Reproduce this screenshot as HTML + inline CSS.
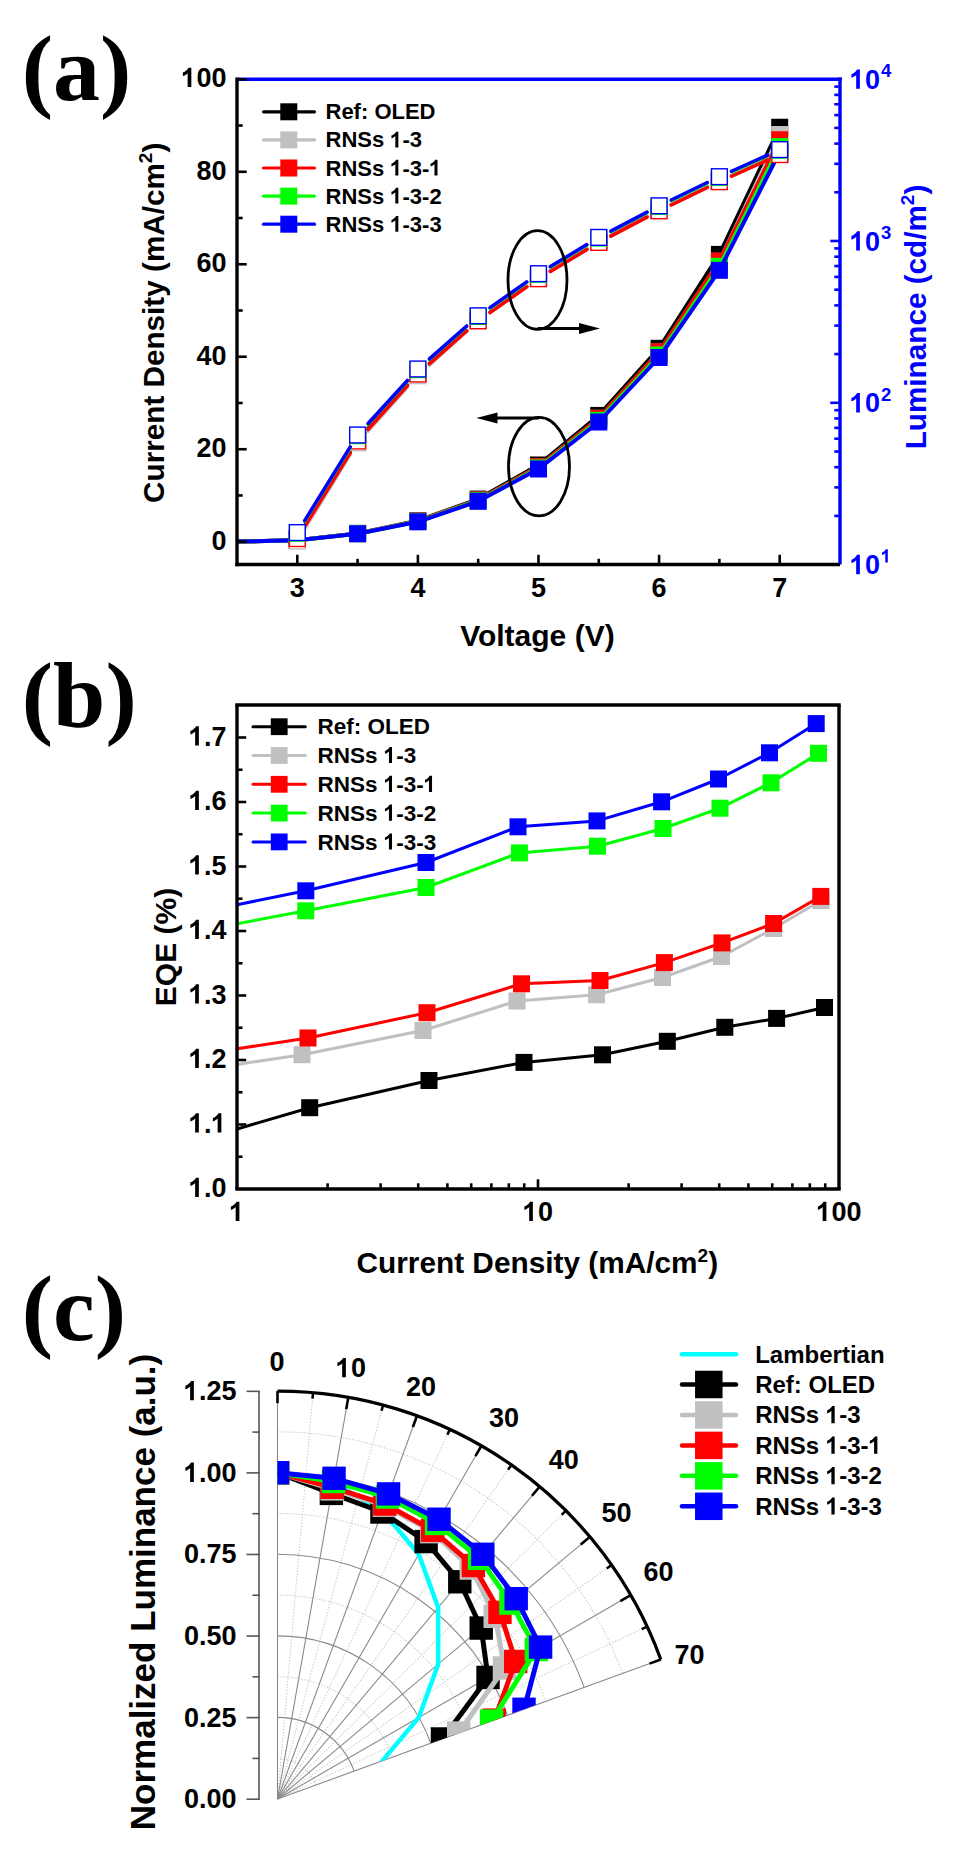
<!DOCTYPE html><html><head><meta charset="utf-8"><style>.o1{fill-opacity:0;}html,body{margin:0;padding:0;background:#fff;}svg{display:block;}</style></head><body>
<svg width="960" height="1870" viewBox="0 0 960 1870">
<rect width="960" height="1870" fill="#fff"/>
<text x="21.8" y="99.8" font-family='"Liberation Serif", serif' font-size="94" font-weight="bold" fill="#000" text-anchor="start" >(a)</text>
<text x="21.8" y="726.5" font-family='"Liberation Serif", serif' font-size="94" font-weight="bold" fill="#000" text-anchor="start" >(b)</text>
<text x="21.8" y="1339.5" font-family='"Liberation Serif", serif' font-size="94" font-weight="bold" fill="#000" text-anchor="start" >(c)</text>
<defs><clipPath id="ca"><rect x="237" y="79.2" width="603" height="485.3"/></clipPath>
<clipPath id="cb"><rect x="237" y="705" width="602" height="484"/></clipPath>
<clipPath id="cc"><polygon points="277.5,1799 277.5,1374.81 284.9,1374.87 292.3,1375.07 299.7,1375.39 307.09,1375.84 314.47,1376.42 321.84,1377.13 329.2,1377.97 336.54,1378.94 343.86,1380.03 351.16,1381.25 358.44,1382.6 365.69,1384.08 372.92,1385.68 380.12,1387.41 387.29,1389.26 394.42,1391.24 401.52,1393.35 408.58,1395.57 415.6,1397.92 422.58,1400.39 429.52,1402.98 436.4,1405.7 443.24,1408.53 450.03,1411.48 456.77,1414.55 463.45,1417.74 470.08,1421.04 476.65,1424.46 483.15,1428 489.59,1431.64 495.97,1435.4 502.29,1439.27 508.53,1443.24 514.7,1447.33 520.81,1451.52 526.83,1455.82 532.78,1460.23 538.66,1464.73 544.45,1469.34 550.16,1474.05 555.79,1478.86 561.34,1483.77 566.8,1488.77 572.17,1493.86 577.45,1499.05 582.64,1504.33 587.73,1509.7 592.73,1515.16 597.64,1520.71 602.45,1526.34 607.16,1532.05 611.77,1537.84 616.27,1543.72 620.68,1549.67 624.98,1555.69 629.17,1561.8 633.26,1567.97 637.23,1574.21 641.1,1580.53 644.86,1586.9 648.5,1593.35 652.04,1599.85 655.46,1606.42 658.76,1613.05 661.95,1619.73 665.02,1626.47 667.97,1633.26 670.8,1640.1 673.52,1646.98 676.11,1653.92"/></clipPath></defs>
<g clip-path="url(#ca)">
<polyline points="237,541.59 297.3,540.12 357.6,533.37 417.9,520.71 478.2,499.08 538.5,465 598.8,415.42 659.1,348.3 719.4,254.4 779.7,127.25" fill="none" stroke="#000000" stroke-width="4" stroke-linejoin="round" stroke-linecap="round" />
<rect x="288.8" y="531.62" width="17" height="17" fill="#000000" stroke="none" stroke-width="0" />
<rect x="349.1" y="524.87" width="17" height="17" fill="#000000" stroke="none" stroke-width="0" />
<rect x="409.4" y="512.21" width="17" height="17" fill="#000000" stroke="none" stroke-width="0" />
<rect x="469.7" y="490.58" width="17" height="17" fill="#000000" stroke="none" stroke-width="0" />
<rect x="530" y="456.5" width="17" height="17" fill="#000000" stroke="none" stroke-width="0" />
<rect x="590.3" y="406.92" width="17" height="17" fill="#000000" stroke="none" stroke-width="0" />
<rect x="650.6" y="339.8" width="17" height="17" fill="#000000" stroke="none" stroke-width="0" />
<rect x="710.9" y="245.9" width="17" height="17" fill="#000000" stroke="none" stroke-width="0" />
<rect x="771.2" y="118.75" width="17" height="17" fill="#000000" stroke="none" stroke-width="0" />
<polyline points="237,541.6 297.3,540.15 357.6,533.56 417.9,521.18 478.2,500.05 538.5,466.75 598.8,418.29 659.1,352 719.4,261.3 779.7,134.5" fill="none" stroke="#c0c0c0" stroke-width="4" stroke-linejoin="round" stroke-linecap="round" />
<rect x="288.8" y="531.65" width="17" height="17" fill="#c0c0c0" stroke="none" stroke-width="0" />
<rect x="349.1" y="525.06" width="17" height="17" fill="#c0c0c0" stroke="none" stroke-width="0" />
<rect x="409.4" y="512.68" width="17" height="17" fill="#c0c0c0" stroke="none" stroke-width="0" />
<rect x="469.7" y="491.55" width="17" height="17" fill="#c0c0c0" stroke="none" stroke-width="0" />
<rect x="530" y="458.25" width="17" height="17" fill="#c0c0c0" stroke="none" stroke-width="0" />
<rect x="590.3" y="409.79" width="17" height="17" fill="#c0c0c0" stroke="none" stroke-width="0" />
<rect x="650.6" y="343.5" width="17" height="17" fill="#c0c0c0" stroke="none" stroke-width="0" />
<rect x="710.9" y="252.8" width="17" height="17" fill="#c0c0c0" stroke="none" stroke-width="0" />
<rect x="771.2" y="126" width="17" height="17" fill="#c0c0c0" stroke="none" stroke-width="0" />
<polyline points="237,541.6 297.3,540.15 357.6,533.56 417.9,521.18 478.2,500.05 538.5,466.75 598.8,418.29 659.1,351.8 719.4,261 779.7,139.75" fill="none" stroke="#ff0000" stroke-width="4" stroke-linejoin="round" stroke-linecap="round" />
<rect x="288.8" y="531.65" width="17" height="17" fill="#ff0000" stroke="none" stroke-width="0" />
<rect x="349.1" y="525.06" width="17" height="17" fill="#ff0000" stroke="none" stroke-width="0" />
<rect x="409.4" y="512.68" width="17" height="17" fill="#ff0000" stroke="none" stroke-width="0" />
<rect x="469.7" y="491.55" width="17" height="17" fill="#ff0000" stroke="none" stroke-width="0" />
<rect x="530" y="458.25" width="17" height="17" fill="#ff0000" stroke="none" stroke-width="0" />
<rect x="590.3" y="409.79" width="17" height="17" fill="#ff0000" stroke="none" stroke-width="0" />
<rect x="650.6" y="343.3" width="17" height="17" fill="#ff0000" stroke="none" stroke-width="0" />
<rect x="710.9" y="252.5" width="17" height="17" fill="#ff0000" stroke="none" stroke-width="0" />
<rect x="771.2" y="131.25" width="17" height="17" fill="#ff0000" stroke="none" stroke-width="0" />
<polyline points="237,541.6 297.3,540.18 357.6,533.69 417.9,521.52 478.2,500.73 538.5,467.98 598.8,420.32 659.1,355 719.4,266.3 779.7,146.6" fill="none" stroke="#00ff00" stroke-width="4" stroke-linejoin="round" stroke-linecap="round" />
<rect x="288.8" y="531.68" width="17" height="17" fill="#00ff00" stroke="none" stroke-width="0" />
<rect x="349.1" y="525.19" width="17" height="17" fill="#00ff00" stroke="none" stroke-width="0" />
<rect x="409.4" y="513.02" width="17" height="17" fill="#00ff00" stroke="none" stroke-width="0" />
<rect x="469.7" y="492.23" width="17" height="17" fill="#00ff00" stroke="none" stroke-width="0" />
<rect x="530" y="459.48" width="17" height="17" fill="#00ff00" stroke="none" stroke-width="0" />
<rect x="590.3" y="411.82" width="17" height="17" fill="#00ff00" stroke="none" stroke-width="0" />
<rect x="650.6" y="346.5" width="17" height="17" fill="#00ff00" stroke="none" stroke-width="0" />
<rect x="710.9" y="257.8" width="17" height="17" fill="#00ff00" stroke="none" stroke-width="0" />
<rect x="771.2" y="138.1" width="17" height="17" fill="#00ff00" stroke="none" stroke-width="0" />
<polyline points="237,541.6 297.3,540.2 357.6,533.8 417.9,521.8 478.2,501.3 538.5,469 598.8,422 659.1,357.5 719.4,270.3 779.7,152" fill="none" stroke="#0000ff" stroke-width="4" stroke-linejoin="round" stroke-linecap="round" />
<rect x="288.8" y="531.7" width="17" height="17" fill="#0000ff" stroke="none" stroke-width="0" />
<rect x="349.1" y="525.3" width="17" height="17" fill="#0000ff" stroke="none" stroke-width="0" />
<rect x="409.4" y="513.3" width="17" height="17" fill="#0000ff" stroke="none" stroke-width="0" />
<rect x="469.7" y="492.8" width="17" height="17" fill="#0000ff" stroke="none" stroke-width="0" />
<rect x="530" y="460.5" width="17" height="17" fill="#0000ff" stroke="none" stroke-width="0" />
<rect x="590.3" y="413.5" width="17" height="17" fill="#0000ff" stroke="none" stroke-width="0" />
<rect x="650.6" y="349" width="17" height="17" fill="#0000ff" stroke="none" stroke-width="0" />
<rect x="710.9" y="261.8" width="17" height="17" fill="#0000ff" stroke="none" stroke-width="0" />
<rect x="771.2" y="143.5" width="17" height="17" fill="#0000ff" stroke="none" stroke-width="0" />
</g>
<line x1="304.62" y1="526.19" x2="350.28" y2="451.91" stroke="#000000" stroke-width="3.5" stroke-linecap="round" />
<line x1="368.01" y1="428.54" x2="407.49" y2="385.06" stroke="#000000" stroke-width="3.5" stroke-linecap="round" />
<line x1="429.4" y1="363.45" x2="466.7" y2="330.55" stroke="#000000" stroke-width="3.5" stroke-linecap="round" />
<line x1="489.98" y1="312.18" x2="526.72" y2="286.52" stroke="#000000" stroke-width="3.5" stroke-linecap="round" />
<line x1="550.43" y1="271.12" x2="586.87" y2="249.18" stroke="#000000" stroke-width="3.5" stroke-linecap="round" />
<line x1="610.84" y1="235.69" x2="647.06" y2="216.71" stroke="#000000" stroke-width="3.5" stroke-linecap="round" />
<line x1="671.2" y1="204.56" x2="707.3" y2="187.14" stroke="#000000" stroke-width="3.5" stroke-linecap="round" />
<line x1="731.55" y1="175.84" x2="767.55" y2="159.66" stroke="#000000" stroke-width="3.5" stroke-linecap="round" />
<rect x="289.4" y="530.2" width="15.8" height="15.8" fill="#fff" stroke="#000000" stroke-width="1.4" />
<rect x="349.7" y="432.1" width="15.8" height="15.8" fill="#fff" stroke="#000000" stroke-width="1.4" />
<rect x="410" y="365.7" width="15.8" height="15.8" fill="#fff" stroke="#000000" stroke-width="1.4" />
<rect x="470.3" y="312.5" width="15.8" height="15.8" fill="#fff" stroke="#000000" stroke-width="1.4" />
<rect x="530.6" y="270.4" width="15.8" height="15.8" fill="#fff" stroke="#000000" stroke-width="1.4" />
<rect x="590.9" y="234.1" width="15.8" height="15.8" fill="#fff" stroke="#000000" stroke-width="1.4" />
<rect x="651.2" y="202.5" width="15.8" height="15.8" fill="#fff" stroke="#000000" stroke-width="1.4" />
<rect x="711.5" y="173.4" width="15.8" height="15.8" fill="#fff" stroke="#000000" stroke-width="1.4" />
<rect x="771.8" y="146.3" width="15.8" height="15.8" fill="#fff" stroke="#000000" stroke-width="1.4" />
<line x1="304.61" y1="529.19" x2="350.29" y2="454.71" stroke="#c0c0c0" stroke-width="3.5" stroke-linecap="round" />
<line x1="367.91" y1="431.32" x2="407.59" y2="387.18" stroke="#c0c0c0" stroke-width="3.5" stroke-linecap="round" />
<line x1="429.36" y1="365.27" x2="466.74" y2="331.23" stroke="#c0c0c0" stroke-width="3.5" stroke-linecap="round" />
<line x1="489.97" y1="312.5" x2="526.73" y2="286.6" stroke="#c0c0c0" stroke-width="3.5" stroke-linecap="round" />
<line x1="550.43" y1="271.12" x2="586.87" y2="249.18" stroke="#c0c0c0" stroke-width="3.5" stroke-linecap="round" />
<line x1="610.84" y1="235.69" x2="647.06" y2="216.71" stroke="#c0c0c0" stroke-width="3.5" stroke-linecap="round" />
<line x1="671.2" y1="204.56" x2="707.3" y2="187.14" stroke="#c0c0c0" stroke-width="3.5" stroke-linecap="round" />
<line x1="731.55" y1="175.84" x2="767.55" y2="159.66" stroke="#c0c0c0" stroke-width="3.5" stroke-linecap="round" />
<rect x="289.4" y="533.2" width="15.8" height="15.8" fill="#fff" stroke="#c0c0c0" stroke-width="1.4" />
<rect x="349.7" y="434.9" width="15.8" height="15.8" fill="#fff" stroke="#c0c0c0" stroke-width="1.4" />
<rect x="410" y="367.8" width="15.8" height="15.8" fill="#fff" stroke="#c0c0c0" stroke-width="1.4" />
<rect x="470.3" y="312.9" width="15.8" height="15.8" fill="#fff" stroke="#c0c0c0" stroke-width="1.4" />
<rect x="530.6" y="270.4" width="15.8" height="15.8" fill="#fff" stroke="#c0c0c0" stroke-width="1.4" />
<rect x="590.9" y="234.1" width="15.8" height="15.8" fill="#fff" stroke="#c0c0c0" stroke-width="1.4" />
<rect x="651.2" y="202.5" width="15.8" height="15.8" fill="#fff" stroke="#c0c0c0" stroke-width="1.4" />
<rect x="711.5" y="173.4" width="15.8" height="15.8" fill="#fff" stroke="#c0c0c0" stroke-width="1.4" />
<rect x="771.8" y="146.3" width="15.8" height="15.8" fill="#fff" stroke="#c0c0c0" stroke-width="1.4" />
<line x1="304.65" y1="526.7" x2="350.25" y2="452.9" stroke="#ff0000" stroke-width="3.5" stroke-linecap="round" />
<line x1="367.93" y1="429.53" x2="407.57" y2="385.47" stroke="#ff0000" stroke-width="3.5" stroke-linecap="round" />
<line x1="429.4" y1="363.85" x2="466.7" y2="330.95" stroke="#ff0000" stroke-width="3.5" stroke-linecap="round" />
<line x1="489.98" y1="312.58" x2="526.72" y2="286.92" stroke="#ff0000" stroke-width="3.5" stroke-linecap="round" />
<line x1="550.43" y1="271.52" x2="586.87" y2="249.58" stroke="#ff0000" stroke-width="3.5" stroke-linecap="round" />
<line x1="610.84" y1="236.09" x2="647.06" y2="217.11" stroke="#ff0000" stroke-width="3.5" stroke-linecap="round" />
<line x1="671.2" y1="204.96" x2="707.3" y2="187.54" stroke="#ff0000" stroke-width="3.5" stroke-linecap="round" />
<line x1="731.55" y1="176.24" x2="767.55" y2="160.06" stroke="#ff0000" stroke-width="3.5" stroke-linecap="round" />
<rect x="289.4" y="530.7" width="15.8" height="15.8" fill="#fff" stroke="#ff0000" stroke-width="1.4" />
<rect x="349.7" y="433.1" width="15.8" height="15.8" fill="#fff" stroke="#ff0000" stroke-width="1.4" />
<rect x="410" y="366.1" width="15.8" height="15.8" fill="#fff" stroke="#ff0000" stroke-width="1.4" />
<rect x="470.3" y="312.9" width="15.8" height="15.8" fill="#fff" stroke="#ff0000" stroke-width="1.4" />
<rect x="530.6" y="270.8" width="15.8" height="15.8" fill="#fff" stroke="#ff0000" stroke-width="1.4" />
<rect x="590.9" y="234.5" width="15.8" height="15.8" fill="#fff" stroke="#ff0000" stroke-width="1.4" />
<rect x="651.2" y="202.9" width="15.8" height="15.8" fill="#fff" stroke="#ff0000" stroke-width="1.4" />
<rect x="711.5" y="173.8" width="15.8" height="15.8" fill="#fff" stroke="#ff0000" stroke-width="1.4" />
<rect x="771.8" y="146.7" width="15.8" height="15.8" fill="#fff" stroke="#ff0000" stroke-width="1.4" />
<line x1="304.65" y1="521.3" x2="350.25" y2="447.5" stroke="#00ff00" stroke-width="3.5" stroke-linecap="round" />
<line x1="368.06" y1="424.15" x2="407.44" y2="381.05" stroke="#00ff00" stroke-width="3.5" stroke-linecap="round" />
<line x1="429.4" y1="359.45" x2="466.7" y2="326.55" stroke="#00ff00" stroke-width="3.5" stroke-linecap="round" />
<line x1="489.98" y1="308.18" x2="526.72" y2="282.52" stroke="#00ff00" stroke-width="3.5" stroke-linecap="round" />
<line x1="550.43" y1="267.12" x2="586.87" y2="245.18" stroke="#00ff00" stroke-width="3.5" stroke-linecap="round" />
<line x1="610.84" y1="231.69" x2="647.06" y2="212.71" stroke="#00ff00" stroke-width="3.5" stroke-linecap="round" />
<line x1="671.2" y1="200.56" x2="707.3" y2="183.14" stroke="#00ff00" stroke-width="3.5" stroke-linecap="round" />
<line x1="731.55" y1="171.84" x2="767.55" y2="155.66" stroke="#00ff00" stroke-width="3.5" stroke-linecap="round" />
<rect x="289.4" y="525.3" width="15.8" height="15.8" fill="#fff" stroke="#00ff00" stroke-width="1.4" />
<rect x="349.7" y="427.7" width="15.8" height="15.8" fill="#fff" stroke="#00ff00" stroke-width="1.4" />
<rect x="410" y="361.7" width="15.8" height="15.8" fill="#fff" stroke="#00ff00" stroke-width="1.4" />
<rect x="470.3" y="308.5" width="15.8" height="15.8" fill="#fff" stroke="#00ff00" stroke-width="1.4" />
<rect x="530.6" y="266.4" width="15.8" height="15.8" fill="#fff" stroke="#00ff00" stroke-width="1.4" />
<rect x="590.9" y="230.1" width="15.8" height="15.8" fill="#fff" stroke="#00ff00" stroke-width="1.4" />
<rect x="651.2" y="198.5" width="15.8" height="15.8" fill="#fff" stroke="#00ff00" stroke-width="1.4" />
<rect x="711.5" y="169.4" width="15.8" height="15.8" fill="#fff" stroke="#00ff00" stroke-width="1.4" />
<rect x="771.8" y="142.3" width="15.8" height="15.8" fill="#fff" stroke="#00ff00" stroke-width="1.4" />
<line x1="304.65" y1="520.7" x2="350.25" y2="446.9" stroke="#0000ff" stroke-width="3.5" stroke-linecap="round" />
<line x1="368.06" y1="423.55" x2="407.44" y2="380.45" stroke="#0000ff" stroke-width="3.5" stroke-linecap="round" />
<line x1="429.4" y1="358.85" x2="466.7" y2="325.95" stroke="#0000ff" stroke-width="3.5" stroke-linecap="round" />
<line x1="489.98" y1="307.58" x2="526.72" y2="281.92" stroke="#0000ff" stroke-width="3.5" stroke-linecap="round" />
<line x1="550.43" y1="266.52" x2="586.87" y2="244.58" stroke="#0000ff" stroke-width="3.5" stroke-linecap="round" />
<line x1="610.84" y1="231.09" x2="647.06" y2="212.11" stroke="#0000ff" stroke-width="3.5" stroke-linecap="round" />
<line x1="671.2" y1="199.96" x2="707.3" y2="182.54" stroke="#0000ff" stroke-width="3.5" stroke-linecap="round" />
<line x1="731.55" y1="171.24" x2="767.55" y2="155.06" stroke="#0000ff" stroke-width="3.5" stroke-linecap="round" />
<rect x="289.4" y="524.7" width="15.8" height="15.8" fill="#fff" stroke="#0000ff" stroke-width="1.4" />
<rect x="349.7" y="427.1" width="15.8" height="15.8" fill="#fff" stroke="#0000ff" stroke-width="1.4" />
<rect x="410" y="361.1" width="15.8" height="15.8" fill="#fff" stroke="#0000ff" stroke-width="1.4" />
<rect x="470.3" y="307.9" width="15.8" height="15.8" fill="#fff" stroke="#0000ff" stroke-width="1.4" />
<rect x="530.6" y="265.8" width="15.8" height="15.8" fill="#fff" stroke="#0000ff" stroke-width="1.4" />
<rect x="590.9" y="229.5" width="15.8" height="15.8" fill="#fff" stroke="#0000ff" stroke-width="1.4" />
<rect x="651.2" y="197.9" width="15.8" height="15.8" fill="#fff" stroke="#0000ff" stroke-width="1.4" />
<rect x="711.5" y="168.8" width="15.8" height="15.8" fill="#fff" stroke="#0000ff" stroke-width="1.4" />
<rect x="771.8" y="141.7" width="15.8" height="15.8" fill="#fff" stroke="#0000ff" stroke-width="1.4" />
<ellipse cx="537.5" cy="280" rx="29.5" ry="49.3" fill="none" stroke="#000" stroke-width="2.8"/>
<ellipse cx="539" cy="466.6" rx="30.5" ry="49.3" fill="none" stroke="#000" stroke-width="2.8"/>
<line x1="537.5" y1="328.5" x2="582" y2="328.5" stroke="#000" stroke-width="2.8" stroke-linecap="butt" />
<polygon points="600,328.5 579,323 579,334" fill="#000"/>
<line x1="539" y1="418" x2="494" y2="418" stroke="#000" stroke-width="2.8" stroke-linecap="butt" />
<polygon points="476.3,418 497.5,412.5 497.5,423.5" fill="#000"/>
<line x1="237" y1="79.2" x2="841.7" y2="79.2" stroke="#0000ff" stroke-width="3.4" stroke-linecap="butt" />
<line x1="840" y1="77.5" x2="840" y2="564.5" stroke="#0000ff" stroke-width="3.4" stroke-linecap="butt" />
<line x1="237" y1="77.5" x2="237" y2="566.2" stroke="#000" stroke-width="3.4" stroke-linecap="butt" />
<line x1="235.3" y1="564.5" x2="840" y2="564.5" stroke="#000" stroke-width="3.4" stroke-linecap="butt" />
<line x1="238.2" y1="541.7" x2="246.7" y2="541.7" stroke="#000" stroke-width="2.6" stroke-linecap="butt" />
<line x1="238.2" y1="495.46" x2="242.7" y2="495.46" stroke="#000" stroke-width="2.6" stroke-linecap="butt" />
<line x1="238.2" y1="449.22" x2="246.7" y2="449.22" stroke="#000" stroke-width="2.6" stroke-linecap="butt" />
<line x1="238.2" y1="402.98" x2="242.7" y2="402.98" stroke="#000" stroke-width="2.6" stroke-linecap="butt" />
<line x1="238.2" y1="356.74" x2="246.7" y2="356.74" stroke="#000" stroke-width="2.6" stroke-linecap="butt" />
<line x1="238.2" y1="310.5" x2="242.7" y2="310.5" stroke="#000" stroke-width="2.6" stroke-linecap="butt" />
<line x1="238.2" y1="264.26" x2="246.7" y2="264.26" stroke="#000" stroke-width="2.6" stroke-linecap="butt" />
<line x1="238.2" y1="218.02" x2="242.7" y2="218.02" stroke="#000" stroke-width="2.6" stroke-linecap="butt" />
<line x1="238.2" y1="171.78" x2="246.7" y2="171.78" stroke="#000" stroke-width="2.6" stroke-linecap="butt" />
<line x1="238.2" y1="125.54" x2="242.7" y2="125.54" stroke="#000" stroke-width="2.6" stroke-linecap="butt" />
<line x1="238.2" y1="79.3" x2="246.7" y2="79.3" stroke="#000" stroke-width="2.6" stroke-linecap="butt" />
<line x1="297.3" y1="563.3" x2="297.3" y2="554.8" stroke="#000" stroke-width="2.6" stroke-linecap="butt" />
<line x1="357.6" y1="563.3" x2="357.6" y2="558.8" stroke="#000" stroke-width="2.6" stroke-linecap="butt" />
<line x1="417.9" y1="563.3" x2="417.9" y2="554.8" stroke="#000" stroke-width="2.6" stroke-linecap="butt" />
<line x1="478.2" y1="563.3" x2="478.2" y2="558.8" stroke="#000" stroke-width="2.6" stroke-linecap="butt" />
<line x1="538.5" y1="563.3" x2="538.5" y2="554.8" stroke="#000" stroke-width="2.6" stroke-linecap="butt" />
<line x1="598.8" y1="563.3" x2="598.8" y2="558.8" stroke="#000" stroke-width="2.6" stroke-linecap="butt" />
<line x1="659.1" y1="563.3" x2="659.1" y2="554.8" stroke="#000" stroke-width="2.6" stroke-linecap="butt" />
<line x1="719.4" y1="563.3" x2="719.4" y2="558.8" stroke="#000" stroke-width="2.6" stroke-linecap="butt" />
<line x1="779.7" y1="563.3" x2="779.7" y2="554.8" stroke="#000" stroke-width="2.6" stroke-linecap="butt" />
<line x1="838.8" y1="515.89" x2="834.3" y2="515.89" stroke="#0000ff" stroke-width="2.6" stroke-linecap="butt" />
<line x1="838.8" y1="487.4" x2="834.3" y2="487.4" stroke="#0000ff" stroke-width="2.6" stroke-linecap="butt" />
<line x1="838.8" y1="467.19" x2="834.3" y2="467.19" stroke="#0000ff" stroke-width="2.6" stroke-linecap="butt" />
<line x1="838.8" y1="451.51" x2="834.3" y2="451.51" stroke="#0000ff" stroke-width="2.6" stroke-linecap="butt" />
<line x1="838.8" y1="438.7" x2="834.3" y2="438.7" stroke="#0000ff" stroke-width="2.6" stroke-linecap="butt" />
<line x1="838.8" y1="427.86" x2="834.3" y2="427.86" stroke="#0000ff" stroke-width="2.6" stroke-linecap="butt" />
<line x1="838.8" y1="418.48" x2="834.3" y2="418.48" stroke="#0000ff" stroke-width="2.6" stroke-linecap="butt" />
<line x1="838.8" y1="410.2" x2="834.3" y2="410.2" stroke="#0000ff" stroke-width="2.6" stroke-linecap="butt" />
<line x1="838.8" y1="402.8" x2="830.3" y2="402.8" stroke="#0000ff" stroke-width="2.6" stroke-linecap="butt" />
<line x1="838.8" y1="354.09" x2="834.3" y2="354.09" stroke="#0000ff" stroke-width="2.6" stroke-linecap="butt" />
<line x1="838.8" y1="325.6" x2="834.3" y2="325.6" stroke="#0000ff" stroke-width="2.6" stroke-linecap="butt" />
<line x1="838.8" y1="305.39" x2="834.3" y2="305.39" stroke="#0000ff" stroke-width="2.6" stroke-linecap="butt" />
<line x1="838.8" y1="289.71" x2="834.3" y2="289.71" stroke="#0000ff" stroke-width="2.6" stroke-linecap="butt" />
<line x1="838.8" y1="276.9" x2="834.3" y2="276.9" stroke="#0000ff" stroke-width="2.6" stroke-linecap="butt" />
<line x1="838.8" y1="266.06" x2="834.3" y2="266.06" stroke="#0000ff" stroke-width="2.6" stroke-linecap="butt" />
<line x1="838.8" y1="256.68" x2="834.3" y2="256.68" stroke="#0000ff" stroke-width="2.6" stroke-linecap="butt" />
<line x1="838.8" y1="248.4" x2="834.3" y2="248.4" stroke="#0000ff" stroke-width="2.6" stroke-linecap="butt" />
<line x1="838.8" y1="241" x2="830.3" y2="241" stroke="#0000ff" stroke-width="2.6" stroke-linecap="butt" />
<line x1="838.8" y1="192.29" x2="834.3" y2="192.29" stroke="#0000ff" stroke-width="2.6" stroke-linecap="butt" />
<line x1="838.8" y1="163.8" x2="834.3" y2="163.8" stroke="#0000ff" stroke-width="2.6" stroke-linecap="butt" />
<line x1="838.8" y1="143.59" x2="834.3" y2="143.59" stroke="#0000ff" stroke-width="2.6" stroke-linecap="butt" />
<line x1="838.8" y1="127.91" x2="834.3" y2="127.91" stroke="#0000ff" stroke-width="2.6" stroke-linecap="butt" />
<line x1="838.8" y1="115.1" x2="834.3" y2="115.1" stroke="#0000ff" stroke-width="2.6" stroke-linecap="butt" />
<line x1="838.8" y1="104.26" x2="834.3" y2="104.26" stroke="#0000ff" stroke-width="2.6" stroke-linecap="butt" />
<line x1="838.8" y1="94.88" x2="834.3" y2="94.88" stroke="#0000ff" stroke-width="2.6" stroke-linecap="butt" />
<line x1="838.8" y1="86.6" x2="834.3" y2="86.6" stroke="#0000ff" stroke-width="2.6" stroke-linecap="butt" />
<text transform="translate(226.5,549.5) scale(1,1.035)" font-family='"Liberation Sans", sans-serif' font-size="27" font-weight="bold" fill="#000" text-anchor="end" >0</text>
<text transform="translate(226.5,457.02) scale(1,1.035)" font-family='"Liberation Sans", sans-serif' font-size="27" font-weight="bold" fill="#000" text-anchor="end" >20</text>
<text transform="translate(226.5,364.54) scale(1,1.035)" font-family='"Liberation Sans", sans-serif' font-size="27" font-weight="bold" fill="#000" text-anchor="end" >40</text>
<text transform="translate(226.5,272.06) scale(1,1.035)" font-family='"Liberation Sans", sans-serif' font-size="27" font-weight="bold" fill="#000" text-anchor="end" >60</text>
<text transform="translate(226.5,179.58) scale(1,1.035)" font-family='"Liberation Sans", sans-serif' font-size="27" font-weight="bold" fill="#000" text-anchor="end" >80</text>
<text transform="translate(226.5,87.1) scale(1,1.035)" font-family='"Liberation Sans", sans-serif' font-size="27" font-weight="bold" fill="#000" text-anchor="end" ><tspan class="o1">1</tspan>00</text>
<text transform="translate(297.3,596.6) scale(1,1.035)" font-family='"Liberation Sans", sans-serif' font-size="27" font-weight="bold" fill="#000" text-anchor="middle" >3</text>
<text transform="translate(417.9,596.6) scale(1,1.035)" font-family='"Liberation Sans", sans-serif' font-size="27" font-weight="bold" fill="#000" text-anchor="middle" >4</text>
<text transform="translate(538.5,596.6) scale(1,1.035)" font-family='"Liberation Sans", sans-serif' font-size="27" font-weight="bold" fill="#000" text-anchor="middle" >5</text>
<text transform="translate(659.1,596.6) scale(1,1.035)" font-family='"Liberation Sans", sans-serif' font-size="27" font-weight="bold" fill="#000" text-anchor="middle" >6</text>
<text transform="translate(779.7,596.6) scale(1,1.035)" font-family='"Liberation Sans", sans-serif' font-size="27" font-weight="bold" fill="#000" text-anchor="middle" >7</text>
<text transform="translate(850,88.8) scale(1,1.035)" font-family='"Liberation Sans", sans-serif' font-size="27" font-weight="bold" fill="#0000ff" text-anchor="start" ><tspan class="o1">1</tspan>0<tspan font-size="18.5" dy="-11.2" dx="1">4</tspan></text>
<text transform="translate(850,250.6) scale(1,1.035)" font-family='"Liberation Sans", sans-serif' font-size="27" font-weight="bold" fill="#0000ff" text-anchor="start" ><tspan class="o1">1</tspan>0<tspan font-size="18.5" dy="-11.2" dx="1">3</tspan></text>
<text transform="translate(850,412.4) scale(1,1.035)" font-family='"Liberation Sans", sans-serif' font-size="27" font-weight="bold" fill="#0000ff" text-anchor="start" ><tspan class="o1">1</tspan>0<tspan font-size="18.5" dy="-11.2" dx="1">2</tspan></text>
<text transform="translate(850,574.2) scale(1,1.035)" font-family='"Liberation Sans", sans-serif' font-size="27" font-weight="bold" fill="#0000ff" text-anchor="start" ><tspan class="o1">1</tspan>0<tspan font-size="18.5" dy="-11.2" dx="1"><tspan class="o1">1</tspan></tspan></text>
<text x="537.4" y="646.3" font-family='"Liberation Sans", sans-serif' font-size="30" font-weight="bold" fill="#000" text-anchor="middle" >Voltage (V)</text>
<text transform="translate(163.6,322.8) rotate(-90)" font-family='"Liberation Sans", sans-serif' font-size="29.7" font-weight="bold" text-anchor="middle">Current Density (mA/cm<tspan font-size="19" dy="-11.3">2</tspan><tspan dy="11.3">)</tspan></text>
<text transform="translate(925.6,317) rotate(-90)" font-family='"Liberation Sans", sans-serif' font-size="29.7" font-weight="bold" fill="#0000ff" text-anchor="middle">Luminance (cd/m<tspan font-size="19" dy="-11.3">2</tspan><tspan dy="11.3">)</tspan></text>
<line x1="263.5" y1="111.8" x2="314.5" y2="111.8" stroke="#000000" stroke-width="3.2" stroke-linecap="round" />
<rect x="280.3" y="103.3" width="17" height="17" fill="#000000" stroke="none" stroke-width="0" />
<text x="325.5" y="119.3" font-family='"Liberation Sans", sans-serif' font-size="22" font-weight="bold" fill="#000" text-anchor="start" >Ref: OLED</text>
<line x1="263.5" y1="139.9" x2="314.5" y2="139.9" stroke="#c0c0c0" stroke-width="3.2" stroke-linecap="round" />
<rect x="280.3" y="131.4" width="17" height="17" fill="#c0c0c0" stroke="none" stroke-width="0" />
<text x="325.5" y="147.4" font-family='"Liberation Sans", sans-serif' font-size="22" font-weight="bold" fill="#000" text-anchor="start" >RNSs <tspan class="o1">1</tspan>-3</text>
<line x1="263.5" y1="168" x2="314.5" y2="168" stroke="#ff0000" stroke-width="3.2" stroke-linecap="round" />
<rect x="280.3" y="159.5" width="17" height="17" fill="#ff0000" stroke="none" stroke-width="0" />
<text x="325.5" y="175.5" font-family='"Liberation Sans", sans-serif' font-size="22" font-weight="bold" fill="#000" text-anchor="start" >RNSs <tspan class="o1">1</tspan>-3-<tspan class="o1">1</tspan></text>
<line x1="263.5" y1="196.1" x2="314.5" y2="196.1" stroke="#00ff00" stroke-width="3.2" stroke-linecap="round" />
<rect x="280.3" y="187.6" width="17" height="17" fill="#00ff00" stroke="none" stroke-width="0" />
<text x="325.5" y="203.6" font-family='"Liberation Sans", sans-serif' font-size="22" font-weight="bold" fill="#000" text-anchor="start" >RNSs <tspan class="o1">1</tspan>-3-2</text>
<line x1="263.5" y1="224.2" x2="314.5" y2="224.2" stroke="#0000ff" stroke-width="3.2" stroke-linecap="round" />
<rect x="280.3" y="215.7" width="17" height="17" fill="#0000ff" stroke="none" stroke-width="0" />
<text x="325.5" y="231.7" font-family='"Liberation Sans", sans-serif' font-size="22" font-weight="bold" fill="#000" text-anchor="start" >RNSs <tspan class="o1">1</tspan>-3-3</text>
<g clip-path="url(#cb)">
<polyline points="237,1129 309.7,1107.7 429,1080.5 524,1062.4 602.5,1054.8 667.3,1041.3 724.8,1027.3 776.6,1018.4 824.5,1007.5" fill="none" stroke="#000000" stroke-width="3" stroke-linejoin="round" stroke-linecap="round" />
<rect x="301.2" y="1099.2" width="17" height="17" fill="#000000" stroke="none" stroke-width="0" />
<rect x="420.5" y="1072" width="17" height="17" fill="#000000" stroke="none" stroke-width="0" />
<rect x="515.5" y="1053.9" width="17" height="17" fill="#000000" stroke="none" stroke-width="0" />
<rect x="594" y="1046.3" width="17" height="17" fill="#000000" stroke="none" stroke-width="0" />
<rect x="658.8" y="1032.8" width="17" height="17" fill="#000000" stroke="none" stroke-width="0" />
<rect x="716.3" y="1018.8" width="17" height="17" fill="#000000" stroke="none" stroke-width="0" />
<rect x="768.1" y="1009.9" width="17" height="17" fill="#000000" stroke="none" stroke-width="0" />
<rect x="816" y="999" width="17" height="17" fill="#000000" stroke="none" stroke-width="0" />
<polyline points="237,1064.4 302,1054.7 423,1030.5 517,1001 596.6,994.8 662.5,977.5 721.5,956.5 773.6,928.5 821,900.5" fill="none" stroke="#c0c0c0" stroke-width="3" stroke-linejoin="round" stroke-linecap="round" />
<rect x="293.5" y="1046.2" width="17" height="17" fill="#c0c0c0" stroke="none" stroke-width="0" />
<rect x="414.5" y="1022" width="17" height="17" fill="#c0c0c0" stroke="none" stroke-width="0" />
<rect x="508.5" y="992.5" width="17" height="17" fill="#c0c0c0" stroke="none" stroke-width="0" />
<rect x="588.1" y="986.3" width="17" height="17" fill="#c0c0c0" stroke="none" stroke-width="0" />
<rect x="654" y="969" width="17" height="17" fill="#c0c0c0" stroke="none" stroke-width="0" />
<rect x="713" y="948" width="17" height="17" fill="#c0c0c0" stroke="none" stroke-width="0" />
<rect x="765.1" y="920" width="17" height="17" fill="#c0c0c0" stroke="none" stroke-width="0" />
<rect x="812.5" y="892" width="17" height="17" fill="#c0c0c0" stroke="none" stroke-width="0" />
<polyline points="237,1048.75 308,1038 427,1012.7 521.5,983.8 600,980.5 664.4,962.6 722,942.9 773.6,923.5 820.8,896.4" fill="none" stroke="#ff0000" stroke-width="3" stroke-linejoin="round" stroke-linecap="round" />
<rect x="299.5" y="1029.5" width="17" height="17" fill="#ff0000" stroke="none" stroke-width="0" />
<rect x="418.5" y="1004.2" width="17" height="17" fill="#ff0000" stroke="none" stroke-width="0" />
<rect x="513" y="975.3" width="17" height="17" fill="#ff0000" stroke="none" stroke-width="0" />
<rect x="591.5" y="972" width="17" height="17" fill="#ff0000" stroke="none" stroke-width="0" />
<rect x="655.9" y="954.1" width="17" height="17" fill="#ff0000" stroke="none" stroke-width="0" />
<rect x="713.5" y="934.4" width="17" height="17" fill="#ff0000" stroke="none" stroke-width="0" />
<rect x="765.1" y="915" width="17" height="17" fill="#ff0000" stroke="none" stroke-width="0" />
<rect x="812.3" y="887.9" width="17" height="17" fill="#ff0000" stroke="none" stroke-width="0" />
<polyline points="237,923.75 305.8,910.8 426,887.5 519.4,852.9 597.5,846.2 663,828.5 720,808.2 771,782.8 818.5,753.3" fill="none" stroke="#00ff00" stroke-width="3" stroke-linejoin="round" stroke-linecap="round" />
<rect x="297.3" y="902.3" width="17" height="17" fill="#00ff00" stroke="none" stroke-width="0" />
<rect x="417.5" y="879" width="17" height="17" fill="#00ff00" stroke="none" stroke-width="0" />
<rect x="510.9" y="844.4" width="17" height="17" fill="#00ff00" stroke="none" stroke-width="0" />
<rect x="589" y="837.7" width="17" height="17" fill="#00ff00" stroke="none" stroke-width="0" />
<rect x="654.5" y="820" width="17" height="17" fill="#00ff00" stroke="none" stroke-width="0" />
<rect x="711.5" y="799.7" width="17" height="17" fill="#00ff00" stroke="none" stroke-width="0" />
<rect x="762.5" y="774.3" width="17" height="17" fill="#00ff00" stroke="none" stroke-width="0" />
<rect x="810" y="744.8" width="17" height="17" fill="#00ff00" stroke="none" stroke-width="0" />
<polyline points="237,904.7 305.8,890.8 426,862.5 518,826.8 597,820.9 661.6,801.8 718.5,779 769.5,752.8 816.2,723.6" fill="none" stroke="#0000ff" stroke-width="3" stroke-linejoin="round" stroke-linecap="round" />
<rect x="297.3" y="882.3" width="17" height="17" fill="#0000ff" stroke="none" stroke-width="0" />
<rect x="417.5" y="854" width="17" height="17" fill="#0000ff" stroke="none" stroke-width="0" />
<rect x="509.5" y="818.3" width="17" height="17" fill="#0000ff" stroke="none" stroke-width="0" />
<rect x="588.5" y="812.4" width="17" height="17" fill="#0000ff" stroke="none" stroke-width="0" />
<rect x="653.1" y="793.3" width="17" height="17" fill="#0000ff" stroke="none" stroke-width="0" />
<rect x="710" y="770.5" width="17" height="17" fill="#0000ff" stroke="none" stroke-width="0" />
<rect x="761" y="744.3" width="17" height="17" fill="#0000ff" stroke="none" stroke-width="0" />
<rect x="807.7" y="715.1" width="17" height="17" fill="#0000ff" stroke="none" stroke-width="0" />
</g>
<line x1="235.3" y1="705" x2="840.7" y2="705" stroke="#000" stroke-width="3.4" stroke-linecap="butt" />
<line x1="235.3" y1="1189" x2="840.7" y2="1189" stroke="#000" stroke-width="3.4" stroke-linecap="butt" />
<line x1="237" y1="705" x2="237" y2="1189" stroke="#000" stroke-width="3.4" stroke-linecap="butt" />
<line x1="839" y1="705" x2="839" y2="1189" stroke="#000" stroke-width="3.4" stroke-linecap="butt" />
<line x1="238.2" y1="1156.75" x2="242.5" y2="1156.75" stroke="#000" stroke-width="2.6" stroke-linecap="butt" />
<line x1="238.2" y1="1124.5" x2="246.2" y2="1124.5" stroke="#000" stroke-width="2.6" stroke-linecap="butt" />
<line x1="238.2" y1="1092.25" x2="242.5" y2="1092.25" stroke="#000" stroke-width="2.6" stroke-linecap="butt" />
<line x1="238.2" y1="1060" x2="246.2" y2="1060" stroke="#000" stroke-width="2.6" stroke-linecap="butt" />
<line x1="238.2" y1="1027.75" x2="242.5" y2="1027.75" stroke="#000" stroke-width="2.6" stroke-linecap="butt" />
<line x1="238.2" y1="995.5" x2="246.2" y2="995.5" stroke="#000" stroke-width="2.6" stroke-linecap="butt" />
<line x1="238.2" y1="963.25" x2="242.5" y2="963.25" stroke="#000" stroke-width="2.6" stroke-linecap="butt" />
<line x1="238.2" y1="931" x2="246.2" y2="931" stroke="#000" stroke-width="2.6" stroke-linecap="butt" />
<line x1="238.2" y1="898.75" x2="242.5" y2="898.75" stroke="#000" stroke-width="2.6" stroke-linecap="butt" />
<line x1="238.2" y1="866.5" x2="246.2" y2="866.5" stroke="#000" stroke-width="2.6" stroke-linecap="butt" />
<line x1="238.2" y1="834.25" x2="242.5" y2="834.25" stroke="#000" stroke-width="2.6" stroke-linecap="butt" />
<line x1="238.2" y1="802" x2="246.2" y2="802" stroke="#000" stroke-width="2.6" stroke-linecap="butt" />
<line x1="238.2" y1="769.75" x2="242.5" y2="769.75" stroke="#000" stroke-width="2.6" stroke-linecap="butt" />
<line x1="238.2" y1="737.5" x2="246.2" y2="737.5" stroke="#000" stroke-width="2.6" stroke-linecap="butt" />
<line x1="327.61" y1="1187.8" x2="327.61" y2="1183.3" stroke="#000" stroke-width="2.6" stroke-linecap="butt" />
<line x1="380.61" y1="1187.8" x2="380.61" y2="1183.3" stroke="#000" stroke-width="2.6" stroke-linecap="butt" />
<line x1="418.22" y1="1187.8" x2="418.22" y2="1183.3" stroke="#000" stroke-width="2.6" stroke-linecap="butt" />
<line x1="447.39" y1="1187.8" x2="447.39" y2="1183.3" stroke="#000" stroke-width="2.6" stroke-linecap="butt" />
<line x1="471.22" y1="1187.8" x2="471.22" y2="1183.3" stroke="#000" stroke-width="2.6" stroke-linecap="butt" />
<line x1="491.37" y1="1187.8" x2="491.37" y2="1183.3" stroke="#000" stroke-width="2.6" stroke-linecap="butt" />
<line x1="508.83" y1="1187.8" x2="508.83" y2="1183.3" stroke="#000" stroke-width="2.6" stroke-linecap="butt" />
<line x1="524.23" y1="1187.8" x2="524.23" y2="1183.3" stroke="#000" stroke-width="2.6" stroke-linecap="butt" />
<line x1="538" y1="1187.8" x2="538" y2="1179.3" stroke="#000" stroke-width="2.6" stroke-linecap="butt" />
<line x1="628.61" y1="1187.8" x2="628.61" y2="1183.3" stroke="#000" stroke-width="2.6" stroke-linecap="butt" />
<line x1="681.61" y1="1187.8" x2="681.61" y2="1183.3" stroke="#000" stroke-width="2.6" stroke-linecap="butt" />
<line x1="719.22" y1="1187.8" x2="719.22" y2="1183.3" stroke="#000" stroke-width="2.6" stroke-linecap="butt" />
<line x1="748.39" y1="1187.8" x2="748.39" y2="1183.3" stroke="#000" stroke-width="2.6" stroke-linecap="butt" />
<line x1="772.22" y1="1187.8" x2="772.22" y2="1183.3" stroke="#000" stroke-width="2.6" stroke-linecap="butt" />
<line x1="792.37" y1="1187.8" x2="792.37" y2="1183.3" stroke="#000" stroke-width="2.6" stroke-linecap="butt" />
<line x1="809.83" y1="1187.8" x2="809.83" y2="1183.3" stroke="#000" stroke-width="2.6" stroke-linecap="butt" />
<line x1="825.23" y1="1187.8" x2="825.23" y2="1183.3" stroke="#000" stroke-width="2.6" stroke-linecap="butt" />
<text transform="translate(226.5,1197) scale(1,1.035)" font-family='"Liberation Sans", sans-serif' font-size="27" font-weight="bold" fill="#000" text-anchor="end" ><tspan class="o1">1</tspan>.0</text>
<text transform="translate(226.5,1132.5) scale(1,1.035)" font-family='"Liberation Sans", sans-serif' font-size="27" font-weight="bold" fill="#000" text-anchor="end" ><tspan class="o1">1</tspan>.<tspan class="o1">1</tspan></text>
<text transform="translate(226.5,1068) scale(1,1.035)" font-family='"Liberation Sans", sans-serif' font-size="27" font-weight="bold" fill="#000" text-anchor="end" ><tspan class="o1">1</tspan>.2</text>
<text transform="translate(226.5,1003.5) scale(1,1.035)" font-family='"Liberation Sans", sans-serif' font-size="27" font-weight="bold" fill="#000" text-anchor="end" ><tspan class="o1">1</tspan>.3</text>
<text transform="translate(226.5,939) scale(1,1.035)" font-family='"Liberation Sans", sans-serif' font-size="27" font-weight="bold" fill="#000" text-anchor="end" ><tspan class="o1">1</tspan>.4</text>
<text transform="translate(226.5,874.5) scale(1,1.035)" font-family='"Liberation Sans", sans-serif' font-size="27" font-weight="bold" fill="#000" text-anchor="end" ><tspan class="o1">1</tspan>.5</text>
<text transform="translate(226.5,810) scale(1,1.035)" font-family='"Liberation Sans", sans-serif' font-size="27" font-weight="bold" fill="#000" text-anchor="end" ><tspan class="o1">1</tspan>.6</text>
<text transform="translate(226.5,745.5) scale(1,1.035)" font-family='"Liberation Sans", sans-serif' font-size="27" font-weight="bold" fill="#000" text-anchor="end" ><tspan class="o1">1</tspan>.7</text>
<text transform="translate(237,1221) scale(1,1.035)" font-family='"Liberation Sans", sans-serif' font-size="27" font-weight="bold" fill="#000" text-anchor="middle" ><tspan class="o1">1</tspan></text>
<text transform="translate(538,1221) scale(1,1.035)" font-family='"Liberation Sans", sans-serif' font-size="27" font-weight="bold" fill="#000" text-anchor="middle" ><tspan class="o1">1</tspan>0</text>
<text transform="translate(839,1221) scale(1,1.035)" font-family='"Liberation Sans", sans-serif' font-size="27" font-weight="bold" fill="#000" text-anchor="middle" ><tspan class="o1">1</tspan>00</text>
<text x="537.3" y="1273" font-family='"Liberation Sans", sans-serif' font-size="29.8" font-weight="bold" fill="#000" text-anchor="middle" >Current Density (mA/cm<tspan font-size="19" dy="-11.3">2</tspan><tspan dy="11.3">)</tspan></text>
<text transform="translate(176.3,947) rotate(-90)" font-family='"Liberation Sans", sans-serif' font-size="30" font-weight="bold" text-anchor="middle">EQE (%)</text>
<line x1="253" y1="726.7" x2="305.3" y2="726.7" stroke="#000000" stroke-width="3.0" stroke-linecap="round" />
<rect x="270.8" y="718.3" width="16.8" height="16.8" fill="#000000" stroke="none" stroke-width="0" />
<text x="317.5" y="734.3" font-family='"Liberation Sans", sans-serif' font-size="22.5" font-weight="bold" fill="#000" text-anchor="start" >Ref: OLED</text>
<line x1="253" y1="755.5" x2="305.3" y2="755.5" stroke="#c0c0c0" stroke-width="3.0" stroke-linecap="round" />
<rect x="270.8" y="747.1" width="16.8" height="16.8" fill="#c0c0c0" stroke="none" stroke-width="0" />
<text x="317.5" y="763.1" font-family='"Liberation Sans", sans-serif' font-size="22.5" font-weight="bold" fill="#000" text-anchor="start" >RNSs <tspan class="o1">1</tspan>-3</text>
<line x1="253" y1="784.3" x2="305.3" y2="784.3" stroke="#ff0000" stroke-width="3.0" stroke-linecap="round" />
<rect x="270.8" y="775.9" width="16.8" height="16.8" fill="#ff0000" stroke="none" stroke-width="0" />
<text x="317.5" y="791.9" font-family='"Liberation Sans", sans-serif' font-size="22.5" font-weight="bold" fill="#000" text-anchor="start" >RNSs <tspan class="o1">1</tspan>-3-<tspan class="o1">1</tspan></text>
<line x1="253" y1="813.1" x2="305.3" y2="813.1" stroke="#00ff00" stroke-width="3.0" stroke-linecap="round" />
<rect x="270.8" y="804.7" width="16.8" height="16.8" fill="#00ff00" stroke="none" stroke-width="0" />
<text x="317.5" y="820.7" font-family='"Liberation Sans", sans-serif' font-size="22.5" font-weight="bold" fill="#000" text-anchor="start" >RNSs <tspan class="o1">1</tspan>-3-2</text>
<line x1="253" y1="841.9" x2="305.3" y2="841.9" stroke="#0000ff" stroke-width="3.0" stroke-linecap="round" />
<rect x="270.8" y="833.5" width="16.8" height="16.8" fill="#0000ff" stroke="none" stroke-width="0" />
<text x="317.5" y="849.5" font-family='"Liberation Sans", sans-serif' font-size="22.5" font-weight="bold" fill="#000" text-anchor="start" >RNSs <tspan class="o1">1</tspan>-3-3</text>
<line x1="277.5" y1="1799" x2="313.05" y2="1392.68" stroke="#c8c8c8" stroke-width="1.1" stroke-linecap="butt" stroke-dasharray="1.3,1.7"/>
<line x1="277.5" y1="1799" x2="383.07" y2="1405.02" stroke="#c8c8c8" stroke-width="1.1" stroke-linecap="butt" stroke-dasharray="1.3,1.7"/>
<line x1="277.5" y1="1799" x2="449.88" y2="1429.34" stroke="#c8c8c8" stroke-width="1.1" stroke-linecap="butt" stroke-dasharray="1.3,1.7"/>
<line x1="277.5" y1="1799" x2="511.45" y2="1464.89" stroke="#c8c8c8" stroke-width="1.1" stroke-linecap="butt" stroke-dasharray="1.3,1.7"/>
<line x1="277.5" y1="1799" x2="565.91" y2="1510.59" stroke="#c8c8c8" stroke-width="1.1" stroke-linecap="butt" stroke-dasharray="1.3,1.7"/>
<line x1="277.5" y1="1799" x2="611.61" y2="1565.05" stroke="#c8c8c8" stroke-width="1.1" stroke-linecap="butt" stroke-dasharray="1.3,1.7"/>
<line x1="277.5" y1="1799" x2="647.16" y2="1626.62" stroke="#c8c8c8" stroke-width="1.1" stroke-linecap="butt" stroke-dasharray="1.3,1.7"/>
<path d="M277.5,1758.21 A40.79,40.79 0 0 1 315.83,1785.05" fill="none" stroke="#c8c8c8" stroke-width="1.1" stroke-dasharray="1.3,1.7"/>
<path d="M277.5,1676.64 A122.36,122.36 0 0 1 392.48,1757.15" fill="none" stroke="#c8c8c8" stroke-width="1.1" stroke-dasharray="1.3,1.7"/>
<path d="M277.5,1595.06 A203.94,203.94 0 0 1 469.14,1729.25" fill="none" stroke="#c8c8c8" stroke-width="1.1" stroke-dasharray="1.3,1.7"/>
<path d="M277.5,1513.49 A285.51,285.51 0 0 1 545.79,1701.35" fill="none" stroke="#c8c8c8" stroke-width="1.1" stroke-dasharray="1.3,1.7"/>
<path d="M277.5,1431.91 A367.09,367.09 0 0 1 622.45,1673.45" fill="none" stroke="#c8c8c8" stroke-width="1.1" stroke-dasharray="1.3,1.7"/>
<path d="M277.5,1717.42 A81.58,81.58 0 0 1 354.16,1771.1" fill="none" stroke="#8a8a8a" stroke-width="1.1"/>
<path d="M277.5,1635.85 A163.15,163.15 0 0 1 430.81,1743.2" fill="none" stroke="#8a8a8a" stroke-width="1.1"/>
<path d="M277.5,1554.28 A244.73,244.73 0 0 1 507.47,1715.3" fill="none" stroke="#8a8a8a" stroke-width="1.1"/>
<path d="M277.5,1472.7 A326.3,326.3 0 0 1 584.12,1687.4" fill="none" stroke="#8a8a8a" stroke-width="1.1"/>
<line x1="277.5" y1="1799" x2="277.5" y2="1391.12" stroke="#8a8a8a" stroke-width="1.1" stroke-linecap="butt" />
<line x1="277.5" y1="1799" x2="348.33" y2="1397.32" stroke="#8a8a8a" stroke-width="1.1" stroke-linecap="butt" />
<line x1="277.5" y1="1799" x2="417" y2="1415.72" stroke="#8a8a8a" stroke-width="1.1" stroke-linecap="butt" />
<line x1="277.5" y1="1799" x2="481.44" y2="1445.77" stroke="#8a8a8a" stroke-width="1.1" stroke-linecap="butt" />
<line x1="277.5" y1="1799" x2="539.68" y2="1486.55" stroke="#8a8a8a" stroke-width="1.1" stroke-linecap="butt" />
<line x1="277.5" y1="1799" x2="589.95" y2="1536.82" stroke="#8a8a8a" stroke-width="1.1" stroke-linecap="butt" />
<line x1="277.5" y1="1799" x2="630.73" y2="1595.06" stroke="#8a8a8a" stroke-width="1.1" stroke-linecap="butt" />
<line x1="277.5" y1="1799" x2="660.78" y2="1659.5" stroke="#8a8a8a" stroke-width="1.1" stroke-linecap="butt" />
<g clip-path="url(#cc)">
<polyline points="277.5,1472.7 333.3,1482.54 382.37,1510.87 418.79,1554.27 438.17,1607.52 438.17,1664.18 418.79,1717.42 382.37,1760.83" fill="none" stroke="#00ffff" stroke-width="4.5" stroke-linejoin="round" stroke-linecap="round" />
<polyline points="277.5,1472.7 331.38,1493.4 381.96,1512 426.13,1541.57 459.77,1581.78 481.22,1628.06 488.03,1677.45 442.46,1738.96" fill="none" stroke="#000000" stroke-width="5" stroke-linejoin="round" stroke-linecap="round" />
<rect x="265.8" y="1461" width="23.4" height="23.4" fill="#000000" stroke="none" stroke-width="0" />
<rect x="319.68" y="1481.7" width="23.4" height="23.4" fill="#000000" stroke="none" stroke-width="0" />
<rect x="370.26" y="1500.3" width="23.4" height="23.4" fill="#000000" stroke="none" stroke-width="0" />
<rect x="414.43" y="1529.87" width="23.4" height="23.4" fill="#000000" stroke="none" stroke-width="0" />
<rect x="448.07" y="1570.08" width="23.4" height="23.4" fill="#000000" stroke="none" stroke-width="0" />
<rect x="469.52" y="1616.36" width="23.4" height="23.4" fill="#000000" stroke="none" stroke-width="0" />
<rect x="476.33" y="1665.75" width="23.4" height="23.4" fill="#000000" stroke="none" stroke-width="0" />
<rect x="430.76" y="1727.26" width="23.4" height="23.4" fill="#000000" stroke="none" stroke-width="0" />
<polyline points="277.5,1472.7 332.18,1488.9 384.41,1505.26 431.84,1531.68 471.3,1568.04 495.22,1616.32 504.42,1667.99 458.71,1733.04" fill="none" stroke="#c0c0c0" stroke-width="5" stroke-linejoin="round" stroke-linecap="round" />
<rect x="265.8" y="1461" width="23.4" height="23.4" fill="#c0c0c0" stroke="none" stroke-width="0" />
<rect x="320.48" y="1477.2" width="23.4" height="23.4" fill="#c0c0c0" stroke="none" stroke-width="0" />
<rect x="372.71" y="1493.56" width="23.4" height="23.4" fill="#c0c0c0" stroke="none" stroke-width="0" />
<rect x="420.14" y="1519.98" width="23.4" height="23.4" fill="#c0c0c0" stroke="none" stroke-width="0" />
<rect x="459.6" y="1556.34" width="23.4" height="23.4" fill="#c0c0c0" stroke="none" stroke-width="0" />
<rect x="483.52" y="1604.62" width="23.4" height="23.4" fill="#c0c0c0" stroke="none" stroke-width="0" />
<rect x="492.72" y="1656.29" width="23.4" height="23.4" fill="#c0c0c0" stroke="none" stroke-width="0" />
<rect x="447.01" y="1721.34" width="23.4" height="23.4" fill="#c0c0c0" stroke="none" stroke-width="0" />
<polyline points="277.5,1472.7 332.46,1487.3 384.86,1504.03 432.66,1530.26 473.4,1565.54 499.96,1612.33 515.72,1661.46 494.28,1720.1" fill="none" stroke="#ff0000" stroke-width="5" stroke-linejoin="round" stroke-linecap="round" />
<rect x="265.8" y="1461" width="23.4" height="23.4" fill="#ff0000" stroke="none" stroke-width="0" />
<rect x="320.76" y="1475.6" width="23.4" height="23.4" fill="#ff0000" stroke="none" stroke-width="0" />
<rect x="373.16" y="1492.33" width="23.4" height="23.4" fill="#ff0000" stroke="none" stroke-width="0" />
<rect x="420.96" y="1518.56" width="23.4" height="23.4" fill="#ff0000" stroke="none" stroke-width="0" />
<rect x="461.7" y="1553.84" width="23.4" height="23.4" fill="#ff0000" stroke="none" stroke-width="0" />
<rect x="488.26" y="1600.63" width="23.4" height="23.4" fill="#ff0000" stroke="none" stroke-width="0" />
<rect x="504.02" y="1649.76" width="23.4" height="23.4" fill="#ff0000" stroke="none" stroke-width="0" />
<rect x="482.58" y="1708.4" width="23.4" height="23.4" fill="#ff0000" stroke="none" stroke-width="0" />
<polyline points="277.5,1472.7 333.48,1481.51 387.43,1496.98 436.57,1523.48 479.48,1558.29 510.96,1603.1 536.35,1649.55 491.52,1721.1" fill="none" stroke="#00ff00" stroke-width="5" stroke-linejoin="round" stroke-linecap="round" />
<rect x="265.8" y="1461" width="23.4" height="23.4" fill="#00ff00" stroke="none" stroke-width="0" />
<rect x="321.78" y="1469.81" width="23.4" height="23.4" fill="#00ff00" stroke="none" stroke-width="0" />
<rect x="375.73" y="1485.28" width="23.4" height="23.4" fill="#00ff00" stroke="none" stroke-width="0" />
<rect x="424.87" y="1511.78" width="23.4" height="23.4" fill="#00ff00" stroke="none" stroke-width="0" />
<rect x="467.78" y="1546.59" width="23.4" height="23.4" fill="#00ff00" stroke="none" stroke-width="0" />
<rect x="499.26" y="1591.4" width="23.4" height="23.4" fill="#00ff00" stroke="none" stroke-width="0" />
<rect x="524.65" y="1637.85" width="23.4" height="23.4" fill="#00ff00" stroke="none" stroke-width="0" />
<rect x="479.82" y="1709.4" width="23.4" height="23.4" fill="#00ff00" stroke="none" stroke-width="0" />
<polyline points="277.5,1472.7 334.05,1478.3 388.54,1493.91 439.02,1519.24 482.84,1554.29 516.21,1598.7 540.59,1647.11 524.02,1709.27" fill="none" stroke="#0000ff" stroke-width="5" stroke-linejoin="round" stroke-linecap="round" />
<rect x="265.8" y="1461" width="23.4" height="23.4" fill="#0000ff" stroke="none" stroke-width="0" />
<rect x="322.35" y="1466.6" width="23.4" height="23.4" fill="#0000ff" stroke="none" stroke-width="0" />
<rect x="376.84" y="1482.21" width="23.4" height="23.4" fill="#0000ff" stroke="none" stroke-width="0" />
<rect x="427.32" y="1507.54" width="23.4" height="23.4" fill="#0000ff" stroke="none" stroke-width="0" />
<rect x="471.14" y="1542.59" width="23.4" height="23.4" fill="#0000ff" stroke="none" stroke-width="0" />
<rect x="504.51" y="1587" width="23.4" height="23.4" fill="#0000ff" stroke="none" stroke-width="0" />
<rect x="528.89" y="1635.41" width="23.4" height="23.4" fill="#0000ff" stroke="none" stroke-width="0" />
<rect x="512.32" y="1697.57" width="23.4" height="23.4" fill="#0000ff" stroke="none" stroke-width="0" />
</g>
<path d="M277.5,1391.12 A407.88,407.88 0 0 1 660.78,1659.5" fill="none" stroke="#000" stroke-width="3.2"/>
<line x1="277.5" y1="1391.12" x2="277.5" y2="1403.12" stroke="#000" stroke-width="2.6" stroke-linecap="butt" />
<line x1="313.05" y1="1392.68" x2="312.53" y2="1398.65" stroke="#000" stroke-width="2.6" stroke-linecap="butt" />
<line x1="348.33" y1="1397.32" x2="346.24" y2="1409.14" stroke="#000" stroke-width="2.6" stroke-linecap="butt" />
<line x1="383.07" y1="1405.02" x2="381.51" y2="1410.82" stroke="#000" stroke-width="2.6" stroke-linecap="butt" />
<line x1="417" y1="1415.72" x2="412.9" y2="1427" stroke="#000" stroke-width="2.6" stroke-linecap="butt" />
<line x1="449.88" y1="1429.34" x2="447.34" y2="1434.78" stroke="#000" stroke-width="2.6" stroke-linecap="butt" />
<line x1="481.44" y1="1445.77" x2="475.44" y2="1456.16" stroke="#000" stroke-width="2.6" stroke-linecap="butt" />
<line x1="511.45" y1="1464.89" x2="508.01" y2="1469.8" stroke="#000" stroke-width="2.6" stroke-linecap="butt" />
<line x1="539.68" y1="1486.55" x2="531.96" y2="1495.74" stroke="#000" stroke-width="2.6" stroke-linecap="butt" />
<line x1="565.91" y1="1510.59" x2="561.67" y2="1514.83" stroke="#000" stroke-width="2.6" stroke-linecap="butt" />
<line x1="589.95" y1="1536.82" x2="580.76" y2="1544.54" stroke="#000" stroke-width="2.6" stroke-linecap="butt" />
<line x1="611.61" y1="1565.05" x2="606.7" y2="1568.49" stroke="#000" stroke-width="2.6" stroke-linecap="butt" />
<line x1="630.73" y1="1595.06" x2="620.34" y2="1601.06" stroke="#000" stroke-width="2.6" stroke-linecap="butt" />
<line x1="647.16" y1="1626.62" x2="641.72" y2="1629.16" stroke="#000" stroke-width="2.6" stroke-linecap="butt" />
<line x1="660.78" y1="1659.5" x2="649.5" y2="1663.6" stroke="#000" stroke-width="2.6" stroke-linecap="butt" />
<text transform="translate(277,1371) scale(1,1.035)" font-family='"Liberation Sans", sans-serif' font-size="27" font-weight="bold" fill="#000" text-anchor="middle" >0</text>
<text transform="translate(351,1377.3) scale(1,1.035)" font-family='"Liberation Sans", sans-serif' font-size="27" font-weight="bold" fill="#000" text-anchor="middle" ><tspan class="o1">1</tspan>0</text>
<text transform="translate(421.1,1396.4) scale(1,1.035)" font-family='"Liberation Sans", sans-serif' font-size="27" font-weight="bold" fill="#000" text-anchor="middle" >20</text>
<text transform="translate(504,1427.4) scale(1,1.035)" font-family='"Liberation Sans", sans-serif' font-size="27" font-weight="bold" fill="#000" text-anchor="middle" >30</text>
<text transform="translate(563.7,1469.2) scale(1,1.035)" font-family='"Liberation Sans", sans-serif' font-size="27" font-weight="bold" fill="#000" text-anchor="middle" >40</text>
<text transform="translate(616.5,1521.5) scale(1,1.035)" font-family='"Liberation Sans", sans-serif' font-size="27" font-weight="bold" fill="#000" text-anchor="middle" >50</text>
<text transform="translate(658.4,1581.4) scale(1,1.035)" font-family='"Liberation Sans", sans-serif' font-size="27" font-weight="bold" fill="#000" text-anchor="middle" >60</text>
<text transform="translate(689.5,1664) scale(1,1.035)" font-family='"Liberation Sans", sans-serif' font-size="27" font-weight="bold" fill="#000" text-anchor="middle" >70</text>
<line x1="259" y1="1390.9" x2="259" y2="1799.9" stroke="#555" stroke-width="1.6" stroke-linecap="butt" />
<line x1="246.5" y1="1799.2" x2="259.8" y2="1799.2" stroke="#555" stroke-width="1.6" stroke-linecap="butt" />
<line x1="252.4" y1="1758.41" x2="259.8" y2="1758.41" stroke="#555" stroke-width="1.6" stroke-linecap="butt" />
<line x1="246.5" y1="1717.62" x2="259.8" y2="1717.62" stroke="#555" stroke-width="1.6" stroke-linecap="butt" />
<line x1="252.4" y1="1676.84" x2="259.8" y2="1676.84" stroke="#555" stroke-width="1.6" stroke-linecap="butt" />
<line x1="246.5" y1="1636.05" x2="259.8" y2="1636.05" stroke="#555" stroke-width="1.6" stroke-linecap="butt" />
<line x1="252.4" y1="1595.26" x2="259.8" y2="1595.26" stroke="#555" stroke-width="1.6" stroke-linecap="butt" />
<line x1="246.5" y1="1554.47" x2="259.8" y2="1554.47" stroke="#555" stroke-width="1.6" stroke-linecap="butt" />
<line x1="252.4" y1="1513.69" x2="259.8" y2="1513.69" stroke="#555" stroke-width="1.6" stroke-linecap="butt" />
<line x1="246.5" y1="1472.9" x2="259.8" y2="1472.9" stroke="#555" stroke-width="1.6" stroke-linecap="butt" />
<line x1="252.4" y1="1432.11" x2="259.8" y2="1432.11" stroke="#555" stroke-width="1.6" stroke-linecap="butt" />
<line x1="246.5" y1="1391.33" x2="259.8" y2="1391.33" stroke="#555" stroke-width="1.6" stroke-linecap="butt" />
<text transform="translate(236.5,1808.2) scale(1,1.035)" font-family='"Liberation Sans", sans-serif' font-size="27" font-weight="bold" fill="#000" text-anchor="end" >0.00</text>
<text transform="translate(236.5,1726.62) scale(1,1.035)" font-family='"Liberation Sans", sans-serif' font-size="27" font-weight="bold" fill="#000" text-anchor="end" >0.25</text>
<text transform="translate(236.5,1645.05) scale(1,1.035)" font-family='"Liberation Sans", sans-serif' font-size="27" font-weight="bold" fill="#000" text-anchor="end" >0.50</text>
<text transform="translate(236.5,1563.47) scale(1,1.035)" font-family='"Liberation Sans", sans-serif' font-size="27" font-weight="bold" fill="#000" text-anchor="end" >0.75</text>
<text transform="translate(236.5,1481.9) scale(1,1.035)" font-family='"Liberation Sans", sans-serif' font-size="27" font-weight="bold" fill="#000" text-anchor="end" ><tspan class="o1">1</tspan>.00</text>
<text transform="translate(236.5,1400.33) scale(1,1.035)" font-family='"Liberation Sans", sans-serif' font-size="27" font-weight="bold" fill="#000" text-anchor="end" ><tspan class="o1">1</tspan>.25</text>
<text transform="translate(154.5,1592) rotate(-90)" font-family='"Liberation Sans", sans-serif' font-size="35" font-weight="bold" text-anchor="middle">Normalized Luminance (a.u.)</text>
<line x1="682" y1="1354.3" x2="736" y2="1354.3" stroke="#00ffff" stroke-width="4.5" stroke-linecap="round" />
<text x="755.2" y="1362.6" font-family='"Liberation Sans", sans-serif' font-size="24" font-weight="bold" fill="#000" text-anchor="start" >Lambertian</text>
<line x1="682" y1="1384.5" x2="736" y2="1384.5" stroke="#000000" stroke-width="4.5" stroke-linecap="round" />
<rect x="695.05" y="1370.75" width="27.5" height="27.5" fill="#000000" stroke="none" stroke-width="0" />
<text x="755.2" y="1392.8" font-family='"Liberation Sans", sans-serif' font-size="24" font-weight="bold" fill="#000" text-anchor="start" >Ref: OLED</text>
<line x1="682" y1="1414.95" x2="736" y2="1414.95" stroke="#c0c0c0" stroke-width="4.5" stroke-linecap="round" />
<rect x="695.05" y="1401.2" width="27.5" height="27.5" fill="#c0c0c0" stroke="none" stroke-width="0" />
<text x="755.2" y="1423.25" font-family='"Liberation Sans", sans-serif' font-size="24" font-weight="bold" fill="#000" text-anchor="start" >RNSs <tspan class="o1">1</tspan>-3</text>
<line x1="682" y1="1445.4" x2="736" y2="1445.4" stroke="#ff0000" stroke-width="4.5" stroke-linecap="round" />
<rect x="695.05" y="1431.65" width="27.5" height="27.5" fill="#ff0000" stroke="none" stroke-width="0" />
<text x="755.2" y="1453.7" font-family='"Liberation Sans", sans-serif' font-size="24" font-weight="bold" fill="#000" text-anchor="start" >RNSs <tspan class="o1">1</tspan>-3-<tspan class="o1">1</tspan></text>
<line x1="682" y1="1475.85" x2="736" y2="1475.85" stroke="#00ff00" stroke-width="4.5" stroke-linecap="round" />
<rect x="695.05" y="1462.1" width="27.5" height="27.5" fill="#00ff00" stroke="none" stroke-width="0" />
<text x="755.2" y="1484.15" font-family='"Liberation Sans", sans-serif' font-size="24" font-weight="bold" fill="#000" text-anchor="start" >RNSs <tspan class="o1">1</tspan>-3-2</text>
<line x1="682" y1="1506.3" x2="736" y2="1506.3" stroke="#0000ff" stroke-width="4.5" stroke-linecap="round" />
<rect x="695.05" y="1492.55" width="27.5" height="27.5" fill="#0000ff" stroke="none" stroke-width="0" />
<text x="755.2" y="1514.6" font-family='"Liberation Sans", sans-serif' font-size="24" font-weight="bold" fill="#000" text-anchor="start" >RNSs <tspan class="o1">1</tspan>-3-3</text>
<g transform="translate(226.5,87.1) scale(1,1.035)"><path d="M750,0 L469,0 L469,1055 Q390,980 300,925 Q200,870 106,842 L106,1098 Q250,1150 360,1250 Q480,1360 535,1466 L750,1466 Z" transform="translate(-45.05,0.00) scale(0.01318,-0.01274)" fill="rgb(0, 0, 0)"/></g>
<g transform="translate(850,88.8) scale(1,1.035)"><path d="M750,0 L469,0 L469,1055 Q390,980 300,925 Q200,870 106,842 L106,1098 Q250,1150 360,1250 Q480,1360 535,1466 L750,1466 Z" transform="translate(0.00,0.00) scale(0.01318,-0.01274)" fill="rgb(0, 0, 255)"/></g>
<g transform="translate(850,250.6) scale(1,1.035)"><path d="M750,0 L469,0 L469,1055 Q390,980 300,925 Q200,870 106,842 L106,1098 Q250,1150 360,1250 Q480,1360 535,1466 L750,1466 Z" transform="translate(0.00,0.00) scale(0.01318,-0.01274)" fill="rgb(0, 0, 255)"/></g>
<g transform="translate(850,412.4) scale(1,1.035)"><path d="M750,0 L469,0 L469,1055 Q390,980 300,925 Q200,870 106,842 L106,1098 Q250,1150 360,1250 Q480,1360 535,1466 L750,1466 Z" transform="translate(0.00,0.00) scale(0.01318,-0.01274)" fill="rgb(0, 0, 255)"/></g>
<g transform="translate(850,574.2) scale(1,1.035)"><path d="M750,0 L469,0 L469,1055 Q390,980 300,925 Q200,870 106,842 L106,1098 Q250,1150 360,1250 Q480,1360 535,1466 L750,1466 Z" transform="translate(0.00,0.00) scale(0.01318,-0.01274)" fill="rgb(0, 0, 255)"/></g>
<g transform="translate(850,574.2) scale(1,1.035)"><path d="M750,0 L469,0 L469,1055 Q390,980 300,925 Q200,870 106,842 L106,1098 Q250,1150 360,1250 Q480,1360 535,1466 L750,1466 Z" transform="translate(31.03,-11.20) scale(0.00903,-0.00873)" fill="rgb(0, 0, 255)"/></g>
<path d="M750,0 L469,0 L469,1055 Q390,980 300,925 Q200,870 106,842 L106,1098 Q250,1150 360,1250 Q480,1360 535,1466 L750,1466 Z" transform="translate(390.30,147.40) scale(0.01074,-0.01074)" fill="rgb(0, 0, 0)"/>
<path d="M750,0 L469,0 L469,1055 Q390,980 300,925 Q200,870 106,842 L106,1098 Q250,1150 360,1250 Q480,1360 535,1466 L750,1466 Z" transform="translate(390.30,175.50) scale(0.01074,-0.01074)" fill="rgb(0, 0, 0)"/>
<path d="M750,0 L469,0 L469,1055 Q390,980 300,925 Q200,870 106,842 L106,1098 Q250,1150 360,1250 Q480,1360 535,1466 L750,1466 Z" transform="translate(429.44,175.50) scale(0.01074,-0.01074)" fill="rgb(0, 0, 0)"/>
<path d="M750,0 L469,0 L469,1055 Q390,980 300,925 Q200,870 106,842 L106,1098 Q250,1150 360,1250 Q480,1360 535,1466 L750,1466 Z" transform="translate(390.30,203.60) scale(0.01074,-0.01074)" fill="rgb(0, 0, 0)"/>
<path d="M750,0 L469,0 L469,1055 Q390,980 300,925 Q200,870 106,842 L106,1098 Q250,1150 360,1250 Q480,1360 535,1466 L750,1466 Z" transform="translate(390.30,231.70) scale(0.01074,-0.01074)" fill="rgb(0, 0, 0)"/>
<g transform="translate(226.5,1197) scale(1,1.035)"><path d="M750,0 L469,0 L469,1055 Q390,980 300,925 Q200,870 106,842 L106,1098 Q250,1150 360,1250 Q480,1360 535,1466 L750,1466 Z" transform="translate(-37.54,0.00) scale(0.01318,-0.01274)" fill="rgb(0, 0, 0)"/></g>
<g transform="translate(226.5,1132.5) scale(1,1.035)"><path d="M750,0 L469,0 L469,1055 Q390,980 300,925 Q200,870 106,842 L106,1098 Q250,1150 360,1250 Q480,1360 535,1466 L750,1466 Z" transform="translate(-37.54,0.00) scale(0.01318,-0.01274)" fill="rgb(0, 0, 0)"/></g>
<g transform="translate(226.5,1132.5) scale(1,1.035)"><path d="M750,0 L469,0 L469,1055 Q390,980 300,925 Q200,870 106,842 L106,1098 Q250,1150 360,1250 Q480,1360 535,1466 L750,1466 Z" transform="translate(-15.02,0.00) scale(0.01318,-0.01274)" fill="rgb(0, 0, 0)"/></g>
<g transform="translate(226.5,1068) scale(1,1.035)"><path d="M750,0 L469,0 L469,1055 Q390,980 300,925 Q200,870 106,842 L106,1098 Q250,1150 360,1250 Q480,1360 535,1466 L750,1466 Z" transform="translate(-37.54,0.00) scale(0.01318,-0.01274)" fill="rgb(0, 0, 0)"/></g>
<g transform="translate(226.5,1003.5) scale(1,1.035)"><path d="M750,0 L469,0 L469,1055 Q390,980 300,925 Q200,870 106,842 L106,1098 Q250,1150 360,1250 Q480,1360 535,1466 L750,1466 Z" transform="translate(-37.54,0.00) scale(0.01318,-0.01274)" fill="rgb(0, 0, 0)"/></g>
<g transform="translate(226.5,939) scale(1,1.035)"><path d="M750,0 L469,0 L469,1055 Q390,980 300,925 Q200,870 106,842 L106,1098 Q250,1150 360,1250 Q480,1360 535,1466 L750,1466 Z" transform="translate(-37.54,0.00) scale(0.01318,-0.01274)" fill="rgb(0, 0, 0)"/></g>
<g transform="translate(226.5,874.5) scale(1,1.035)"><path d="M750,0 L469,0 L469,1055 Q390,980 300,925 Q200,870 106,842 L106,1098 Q250,1150 360,1250 Q480,1360 535,1466 L750,1466 Z" transform="translate(-37.54,0.00) scale(0.01318,-0.01274)" fill="rgb(0, 0, 0)"/></g>
<g transform="translate(226.5,810) scale(1,1.035)"><path d="M750,0 L469,0 L469,1055 Q390,980 300,925 Q200,870 106,842 L106,1098 Q250,1150 360,1250 Q480,1360 535,1466 L750,1466 Z" transform="translate(-37.54,0.00) scale(0.01318,-0.01274)" fill="rgb(0, 0, 0)"/></g>
<g transform="translate(226.5,745.5) scale(1,1.035)"><path d="M750,0 L469,0 L469,1055 Q390,980 300,925 Q200,870 106,842 L106,1098 Q250,1150 360,1250 Q480,1360 535,1466 L750,1466 Z" transform="translate(-37.54,0.00) scale(0.01318,-0.01274)" fill="rgb(0, 0, 0)"/></g>
<g transform="translate(237,1221) scale(1,1.035)"><path d="M750,0 L469,0 L469,1055 Q390,980 300,925 Q200,870 106,842 L106,1098 Q250,1150 360,1250 Q480,1360 535,1466 L750,1466 Z" transform="translate(-7.51,0.00) scale(0.01318,-0.01274)" fill="rgb(0, 0, 0)"/></g>
<g transform="translate(538,1221) scale(1,1.035)"><path d="M750,0 L469,0 L469,1055 Q390,980 300,925 Q200,870 106,842 L106,1098 Q250,1150 360,1250 Q480,1360 535,1466 L750,1466 Z" transform="translate(-15.02,0.00) scale(0.01318,-0.01274)" fill="rgb(0, 0, 0)"/></g>
<g transform="translate(839,1221) scale(1,1.035)"><path d="M750,0 L469,0 L469,1055 Q390,980 300,925 Q200,870 106,842 L106,1098 Q250,1150 360,1250 Q480,1360 535,1466 L750,1466 Z" transform="translate(-22.52,0.00) scale(0.01318,-0.01274)" fill="rgb(0, 0, 0)"/></g>
<path d="M750,0 L469,0 L469,1055 Q390,980 300,925 Q200,870 106,842 L106,1098 Q250,1150 360,1250 Q480,1360 535,1466 L750,1466 Z" transform="translate(383.78,763.10) scale(0.01099,-0.01099)" fill="rgb(0, 0, 0)"/>
<path d="M750,0 L469,0 L469,1055 Q390,980 300,925 Q200,870 106,842 L106,1098 Q250,1150 360,1250 Q480,1360 535,1466 L750,1466 Z" transform="translate(383.78,791.90) scale(0.01099,-0.01099)" fill="rgb(0, 0, 0)"/>
<path d="M750,0 L469,0 L469,1055 Q390,980 300,925 Q200,870 106,842 L106,1098 Q250,1150 360,1250 Q480,1360 535,1466 L750,1466 Z" transform="translate(423.80,791.90) scale(0.01099,-0.01099)" fill="rgb(0, 0, 0)"/>
<path d="M750,0 L469,0 L469,1055 Q390,980 300,925 Q200,870 106,842 L106,1098 Q250,1150 360,1250 Q480,1360 535,1466 L750,1466 Z" transform="translate(383.78,820.70) scale(0.01099,-0.01099)" fill="rgb(0, 0, 0)"/>
<path d="M750,0 L469,0 L469,1055 Q390,980 300,925 Q200,870 106,842 L106,1098 Q250,1150 360,1250 Q480,1360 535,1466 L750,1466 Z" transform="translate(383.78,849.50) scale(0.01099,-0.01099)" fill="rgb(0, 0, 0)"/>
<g transform="translate(351,1377.3) scale(1,1.035)"><path d="M750,0 L469,0 L469,1055 Q390,980 300,925 Q200,870 106,842 L106,1098 Q250,1150 360,1250 Q480,1360 535,1466 L750,1466 Z" transform="translate(-15.02,0.00) scale(0.01318,-0.01274)" fill="rgb(0, 0, 0)"/></g>
<g transform="translate(236.5,1481.9) scale(1,1.035)"><path d="M750,0 L469,0 L469,1055 Q390,980 300,925 Q200,870 106,842 L106,1098 Q250,1150 360,1250 Q480,1360 535,1466 L750,1466 Z" transform="translate(-52.54,0.00) scale(0.01318,-0.01274)" fill="rgb(0, 0, 0)"/></g>
<g transform="translate(236.5,1400.33) scale(1,1.035)"><path d="M750,0 L469,0 L469,1055 Q390,980 300,925 Q200,870 106,842 L106,1098 Q250,1150 360,1250 Q480,1360 535,1466 L750,1466 Z" transform="translate(-52.54,0.00) scale(0.01318,-0.01274)" fill="rgb(0, 0, 0)"/></g>
<path d="M750,0 L469,0 L469,1055 Q390,980 300,925 Q200,870 106,842 L106,1098 Q250,1150 360,1250 Q480,1360 535,1466 L750,1466 Z" transform="translate(825.89,1423.25) scale(0.01172,-0.01172)" fill="rgb(0, 0, 0)"/>
<path d="M750,0 L469,0 L469,1055 Q390,980 300,925 Q200,870 106,842 L106,1098 Q250,1150 360,1250 Q480,1360 535,1466 L750,1466 Z" transform="translate(825.89,1453.70) scale(0.01172,-0.01172)" fill="rgb(0, 0, 0)"/>
<path d="M750,0 L469,0 L469,1055 Q390,980 300,925 Q200,870 106,842 L106,1098 Q250,1150 360,1250 Q480,1360 535,1466 L750,1466 Z" transform="translate(868.59,1453.70) scale(0.01172,-0.01172)" fill="rgb(0, 0, 0)"/>
<path d="M750,0 L469,0 L469,1055 Q390,980 300,925 Q200,870 106,842 L106,1098 Q250,1150 360,1250 Q480,1360 535,1466 L750,1466 Z" transform="translate(825.89,1484.15) scale(0.01172,-0.01172)" fill="rgb(0, 0, 0)"/>
<path d="M750,0 L469,0 L469,1055 Q390,980 300,925 Q200,870 106,842 L106,1098 Q250,1150 360,1250 Q480,1360 535,1466 L750,1466 Z" transform="translate(825.89,1514.60) scale(0.01172,-0.01172)" fill="rgb(0, 0, 0)"/>
</svg></body></html>
